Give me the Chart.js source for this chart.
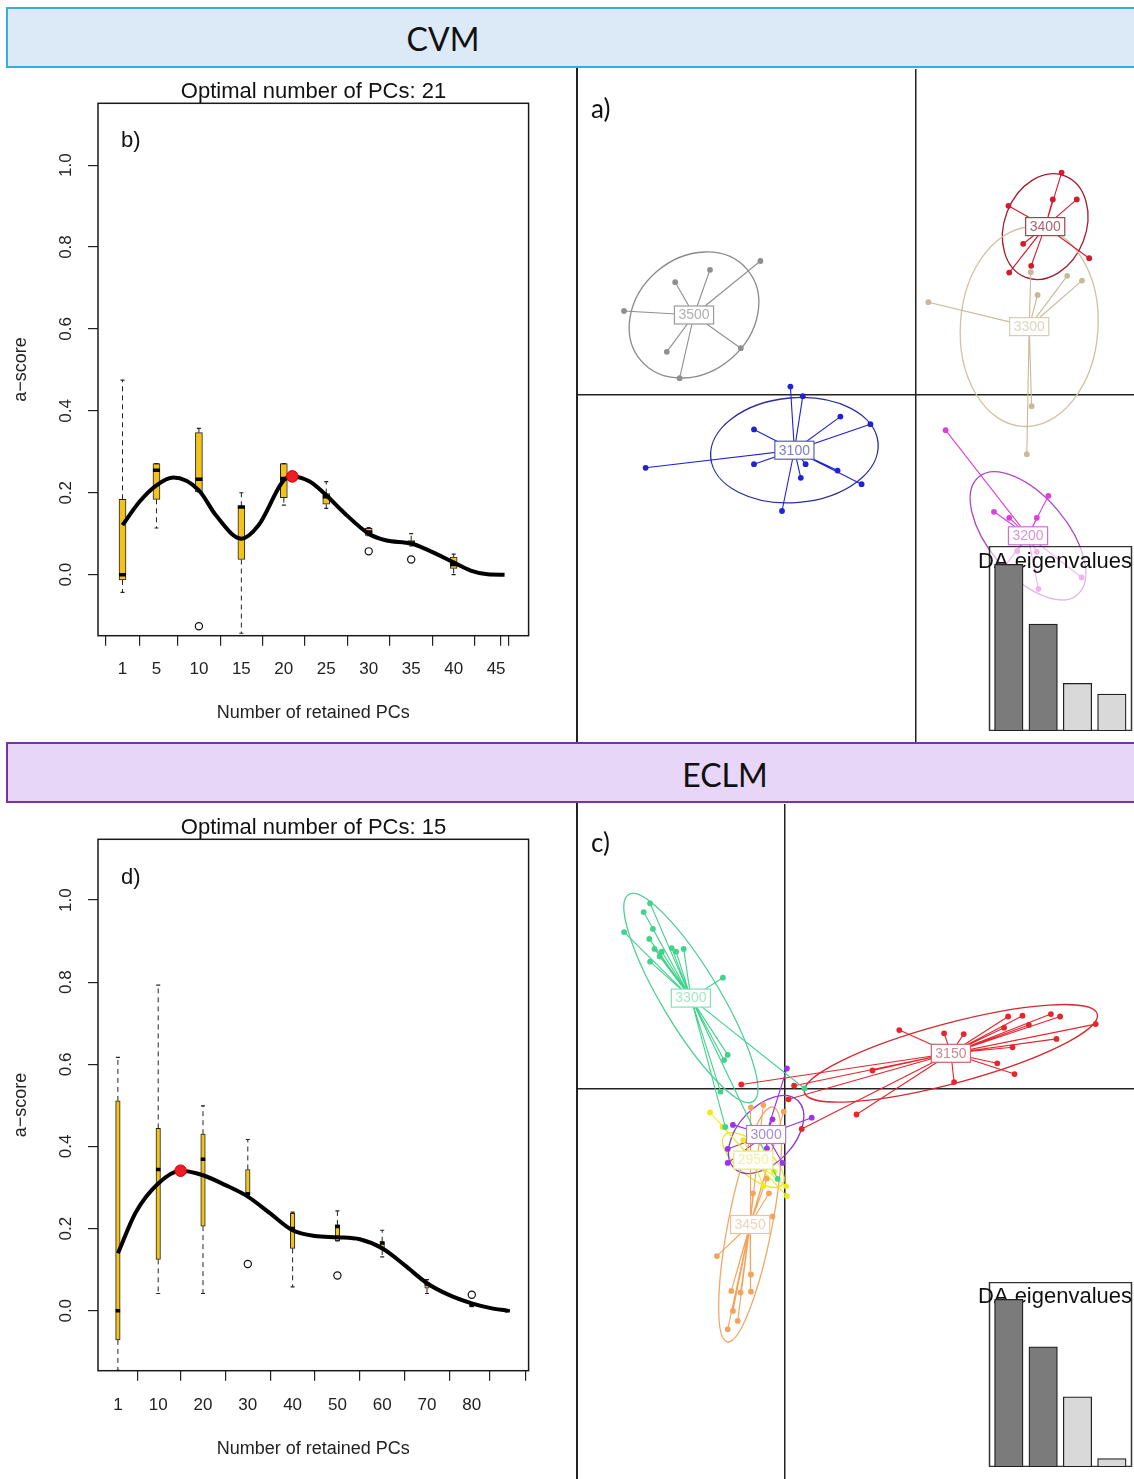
<!DOCTYPE html>
<html>
<head>
<meta charset="utf-8">
<title>DAPC - CVM / ECLM</title>
<script src="https://cdn.jsdelivr.net/npm/chart.js@4.4.1/dist/chart.umd.min.js"></script>
<style>
  body { margin: 0; background: #fff; }
  #page { position: relative; width: 1134px; height: 1479px; overflow: hidden; background: #fff; }
  canvas { position: absolute; }
  .banner { position: absolute; left: 6px; width: 1140px; height: 57px; border: 2px solid; z-index: 5; }
  .bannerText { position: absolute; transform: translate(-50%, -50%); font-family: Lato, 'Open Sans', sans-serif; font-size: 32px; line-height: 1; color: #111; z-index: 6; }
  .tag { position: absolute; line-height: 1; color: #111; z-index: 6; }
  .vline { position: absolute; left: 576px; width: 1.5px; background: #222; z-index: 4; }
</style>
</head>
<body>
<div id="page">
  <div class="banner" style="top:7px;background:#dce9f7;border-color:#36acdf"></div>
  <div class="bannerText" style="left:443px;top:39px">CVM</div>
  <div class="banner" style="top:742px;background:#e7d6f8;border-color:#7433a6"></div>
  <div class="bannerText" style="left:725px;top:775px">ECLM</div>

  <canvas id="scoreCvm" width="627" height="672" style="left:0;top:70px;z-index:1"></canvas>
  <canvas id="dapcCvm" width="556" height="673" style="left:578px;top:69px;z-index:2;background:#fff"></canvas>
  <canvas id="eigCvm" width="158" height="185" style="left:976px;top:546px;z-index:3"></canvas>

  <canvas id="scoreEclm" width="627" height="674" style="left:0;top:805px;z-index:1"></canvas>
  <canvas id="dapcEclm" width="556" height="675" style="left:578px;top:804px;z-index:2;background:#fff"></canvas>
  <canvas id="eigEclm" width="158" height="185" style="left:976px;top:1282px;z-index:3"></canvas>

  <div class="vline" style="top:68px;height:674px"></div>
  <div class="vline" style="top:803px;height:676px"></div>

  <div class="tag" style="left:121px;top:127px;font:22px 'Liberation Sans',Arial,sans-serif">b)</div>
  <div class="tag" style="left:121px;top:864px;font:22px 'Liberation Sans',Arial,sans-serif">d)</div>
  <div class="tag" style="left:591px;top:92px;font:26px Lato,'Open Sans',sans-serif">a)</div>
  <div class="tag" style="left:591px;top:826px;font:26px Lato,'Open Sans',sans-serif">c)</div>
</div>

<script>
const fontFamily = "'Liberation Sans', Arial, Helvetica, sans-serif"
Chart.defaults.font.family = fontFamily
Chart.defaults.color = '#1a1a1a'

// ---------- a-score cross validation, CVM (b)
const cvmTitle = 'Optimal number of PCs: 21'
const cvmBoxX = [1, 5, 10, 15, 20, 25, 30, 35, 40]
const cvmMin = [-0.043, 0.114, 0.202, -0.143, 0.170, 0.162, 0.095, 0.070, 0.000]
const cvmQ1 = [-0.013, 0.184, 0.202, 0.037, 0.188, 0.172, 0.096, 0.072, 0.015]
const cvmMed = [0.000, 0.255, 0.233, 0.165, 0.235, 0.190, 0.104, 0.077, 0.025]
const cvmQ3 = [0.184, 0.271, 0.347, 0.167, 0.271, 0.198, 0.113, 0.083, 0.043]
const cvmMax = [0.475, 0.271, 0.357, 0.200, 0.271, 0.227, 0.115, 0.100, 0.050]
const cvmOutX = [10, 30, 35]
const cvmOutY = [-0.126, 0.057, 0.037]
const cvmCurveX = [1, 3, 5, 7, 10, 12, 15, 17, 20, 21, 23, 25, 27, 30, 32, 35, 37, 40, 42, 44, 46]
const cvmCurveY = [0.121, 0.178, 0.218, 0.237, 0.206, 0.145, 0.088, 0.120, 0.231, 0.240, 0.228, 0.194, 0.153, 0.100, 0.084, 0.076, 0.060, 0.030, 0.010, 0.001, 0.000]
const cvmBest = [21, 0.240]
const cvmXTicks = [1, 5, 10, 15, 20, 25, 30, 35, 40, 45, 46]
const cvmXLabels = ['1', '5', '10', '15', '20', '25', '30', '35', '40', '45', '']

// ---------- a-score cross validation, ECLM (d)
const eclmTitle = 'Optimal number of PCs: 15'
const eclmBoxX = [1, 10, 20, 30, 40, 50, 60, 70, 80, 88]
const eclmMin = [-0.145, 0.042, 0.042, 0.282, 0.058, 0.170, 0.131, 0.042, 0.010, 0.000]
const eclmQ1 = [-0.071, 0.125, 0.206, 0.282, 0.152, 0.170, 0.148, 0.055, 0.010, 0.000]
const eclmMed = [0.000, 0.344, 0.369, 0.285, 0.200, 0.205, 0.165, 0.065, 0.015, 0.000]
const eclmQ3 = [0.511, 0.444, 0.430, 0.344, 0.237, 0.209, 0.168, 0.070, 0.020, 0.000]
const eclmMax = [0.617, 0.793, 0.499, 0.417, 0.240, 0.243, 0.196, 0.076, 0.020, 0.000]
const eclmOutX = [30, 50, 80]
const eclmOutY = [0.114, 0.086, 0.039]
const eclmCurveX = [1, 5, 10, 15, 20, 25, 30, 35, 40, 45, 50, 55, 60, 65, 70, 75, 80, 84, 88]
const eclmCurveY = [0.140, 0.240, 0.310, 0.341, 0.330, 0.306, 0.278, 0.237, 0.196, 0.182, 0.179, 0.174, 0.152, 0.111, 0.067, 0.038, 0.018, 0.007, 0.000]
const eclmBest = [15, 0.341]
const eclmXTicks = [1, 10, 20, 30, 40, 50, 60, 70, 80, 88]
const eclmXLabels = ['1', '10', '20', '30', '40', '50', '60', '70', '80', '']

const scoreYTicks = [0, 0.2, 0.4, 0.6, 0.8, 1.0]

// ---------- DAPC scatter, CVM (a)
const cvmGroups = ['3500', '3100', '3400', '3300', '3200']
const cvmCx = [-5.55, -3.04, 3.23, 2.83, 2.80]
const cvmCy = [2.00, -1.38, 4.21, 1.71, -3.52]
const cvmPtsX = [
  [-7.30, -6.02, -5.15, -3.89, -4.38, -6.23, -5.91],
  [-3.14, -2.83, -1.89, -1.14, -4.05, -6.76, -4.05, -2.76, -2.88, -1.96, -1.36, -3.35],
  [3.64, 3.42, 4.02, 2.31, 2.68, 2.88, 2.33, 4.33],
  [0.31, 2.87, 3.04, 3.78, 4.15, 2.89, 2.77],
  [0.74, 3.31, 1.95, 2.33, 3.02, 2.53, 3.02, 2.08, 4.14, 3.06]
]
const cvmPtsY = [
  [2.10, 2.82, 3.13, 3.35, 1.17, 1.08, 0.42],
  [0.21, -0.03, -0.54, -0.73, -0.86, -1.82, -1.73, -1.73, -2.07, -1.89, -2.23, -2.90],
  [5.56, 4.89, 4.89, 4.73, 3.78, 3.23, 3.06, 3.42],
  [2.32, 3.07, 2.50, 2.98, 2.86, -0.28, -1.48],
  [-0.88, -2.52, -2.92, -3.07, -3.07, -3.90, -3.92, -4.46, -4.56, -4.85]
]
const cvmEllA = [1.75, 2.10, 1.36, 2.50, 1.92]
const cvmEllB = [1.43, 1.31, 1.02, 1.72, 0.98]
const cvmEllAng = [41, 5, 69, 86, -50]
const cvmEig = [100, 64.2, 28.6, 22.2]

// ---------- DAPC scatter, ECLM (c)
const eclmGroups = ['3300', '3150', '2950', '3000', '3450']
const eclmCx = [-2.34, 4.16, -0.78, -0.46, -0.86]
const eclmCy = [2.26, 0.88, -1.79, -1.15, -3.40]
const eclmPtsX = [
  [-3.36, -3.52, -4.01, -3.29, -3.38, -3.25, -3.07, -2.82, -2.71, -2.52, -3.36, -3.12, -1.54, -1.42, -1.51, -1.60, -1.48, 0.50, -0.17],
  [2.87, 3.99, 4.48, 5.59, 5.95, 6.66, 6.89, 7.78, 5.49, 6.11, 6.80, 5.70, 5.32, 5.75, 4.24, 2.20, 0.24, -1.08, 0.10, 1.80, 0.43],
  [-1.86, -1.55, 0.04, 0.06, -0.26, -0.53, -1.03],
  [0.06, 0.68, -0.30, -1.29, -1.42, -1.42, -0.05, -0.44],
  [-1.69, -0.84, -1.33, -1.10, -0.84, -1.29, -1.17, -1.42, -0.53, -0.84, -0.02, -0.44, -0.39, -0.79, -0.30]
]
const eclmPtsY = [
  [4.63, 4.41, 3.91, 3.99, 3.74, 3.49, 3.42, 3.51, 3.42, 3.49, 3.17, 3.30, 2.77, 0.84, 0.71, -0.08, -0.96, 0.00, -2.26],
  [1.46, 1.38, 1.36, 1.80, 1.82, 1.86, 1.80, 1.61, 1.52, 1.59, 1.24, 1.03, 0.63, 0.36, 0.16, 0.45, 0.07, 0.10, -0.27, -0.65, -1.01],
  [-0.60, -0.96, -2.44, -2.69, -2.08, -2.44, -1.29],
  [0.50, -0.73, -0.77, -0.91, -1.51, -1.86, -1.86, -1.50],
  [-4.19, -4.65, -5.06, -5.10, -5.08, -5.56, -5.81, -6.02, -0.41, -0.47, -0.58, -2.25, -2.62, -2.62, -3.20]
]
const eclmEllA = [3.02, 3.79, 0.95, 1.16, 2.99]
const eclmEllB = [0.72, 0.75, 0.40, 0.70, 0.55]
const eclmEllAng = [-59, 15, -40, 47, 79]
const eclmEig = [100, 71.7, 41.8, 5.0]

// colours
const cvmCol = ['#8f8f8f', '#1f22d8', '#d41a2c', '#c8b998', '#dc3fdc']
const cvmEllCol = ['#8a8a8a', '#2a2e98', '#a31b30', '#cfc2a6', '#b04ac4']
const cvmBoxCol = ['#9a9a9a', '#5a5fb0', '#a8404e', '#d8ccb4', '#d070d6']
const cvmTxtCol = ['#b0b0b0', '#7d80c0', '#b0606c', '#ddd4c2', '#dc90dc']
const eclmCol = ['#40d38c', '#e8242c', '#eeea14', '#9a33ec', '#f3a35c']
const eclmEllCol = ['#4ccf95', '#d42a30', '#e8e430', '#8a3cd6', '#f0a868']
const eclmBoxCol = ['#86ddb6', '#c9666b', '#ecea6a', '#a57ed8', '#f0c29a']
const eclmTxtCol = ['#a6e6c8', '#c98a90', '#f4f0a0', '#a68ad6', '#f2d2b6']
const eigFill = ['#7b7b7b', '#7b7b7b', '#d9d9d9', '#d9d9d9']


const frame = {
  id: 'frame',
  afterDatasetsDraw(chart) {
    const {ctx, chartArea: a} = chart
    ctx.save()
    ctx.strokeStyle = '#1a1a1a'
    ctx.lineWidth = 1.5
    ctx.strokeRect(a.left, a.top, a.right - a.left, a.bottom - a.top)
    ctx.restore()
  }
}

function scoreChart(id, s) {
  var boxes = [], meds = [], whisk = [], caps = [], outs = []
  s.boxX.forEach((x, i) => {
    boxes.push({x: x, y: [s.q1[i], s.q3[i]]})
    meds.push({x: x, y: s.med[i]})
    whisk.push({x: x, y: s.q3[i]}, {x: x, y: s.max[i]}, {x: x, y: null})
    whisk.push({x: x, y: s.q1[i]}, {x: x, y: s.min[i]}, {x: x, y: null})
    caps.push({x: x, y: s.max[i]}, {x: x, y: s.min[i]})
  })
  s.outX.forEach((x, i) => outs.push({x: x, y: s.outY[i]}))

  return new Chart(document.getElementById(id), {
    type: 'scatter',
    data: {
      datasets: [
        {type: 'scatter', data: [{x: s.best[0], y: s.best[1]}], pointRadius: 5.8, backgroundColor: '#ee1c24', borderColor: '#d00000', borderWidth: 1, order: 0},
        {type: 'line', data: s.curveX.map((x, i) => ({x: x, y: s.curveY[i]})), borderColor: '#000', borderWidth: 4, pointRadius: 0, cubicInterpolationMode: 'monotone', order: 1},
        {type: 'scatter', data: meds, pointStyle: 'line', pointRadius: s.boxW / 2, borderWidth: 3.5, borderColor: '#000', order: 2},
        {type: 'scatter', data: caps, pointStyle: 'line', pointRadius: 2, borderWidth: 1.2, borderColor: '#222', order: 3},
        {type: 'scatter', data: outs, pointRadius: 3.6, backgroundColor: '#fff', borderColor: '#111', borderWidth: 1.2, order: 3},
        {type: 'line', data: whisk, borderColor: '#222', borderWidth: 1, borderDash: [5, 4], pointRadius: 0, spanGaps: false, order: 4},
        {type: 'bar', data: boxes, barThickness: s.boxW, backgroundColor: '#f2c31b', borderColor: '#222', borderWidth: 1, borderSkipped: false, order: 5}
      ]
    },
    options: {
      responsive: false,
      animation: false,
      events: [],
      layout: {autoPadding: false},
      plugins: {
        legend: {display: false},
        tooltip: {enabled: false},
        title: {display: true, text: s.title, color: '#111', font: {size: 22, weight: 'normal', lineHeight: 1}, padding: {top: s.titleTop, bottom: 0}}
      },
      scales: {
        x: {
          type: 'linear', min: s.xMin, max: s.xMax, offset: false,
          afterBuildTicks: sc => { sc.ticks = s.xTicks.map(v => ({value: v})) },
          afterFit: sc => { sc.height = s.xAxisH },
          ticks: {autoSkip: false, minRotation: 0, maxRotation: 0, padding: s.xTickPad, font: {size: 17}, color: '#222', callback: (v, i) => s.xLabels[i]},
          grid: {drawOnChartArea: false, tickLength: 10, color: '#222', lineWidth: 1.2},
          border: {display: false},
          title: {display: true, text: 'Number of retained PCs', color: '#222', font: {size: 18}, padding: {top: 0, bottom: s.xTitlePad}}
        },
        y: {
          type: 'linear', min: s.yMin, max: s.yMax,
          afterBuildTicks: sc => { sc.ticks = scoreYTicks.map(v => ({value: v})) },
          afterFit: sc => { sc.width = 98 },
          ticks: {autoSkip: false, minRotation: 90, maxRotation: 90, crossAlign: 'center', padding: 10, font: {size: 17}, color: '#222', callback: v => v.toFixed(1)},
          grid: {drawOnChartArea: false, tickLength: 10, color: '#222', lineWidth: 1.2},
          border: {display: false},
          title: {display: true, text: 'a\u2212score', color: '#222', font: {size: 18}, padding: {top: 10, bottom: 0}}
        },
        y2: {
          type: 'linear', position: 'right', display: true,
          afterFit: sc => { sc.width = 98.4 },
          ticks: {display: false}, grid: {display: false}, border: {display: false}
        }
      }
    },
    plugins: [frame]
  })
}

function dapcDecor(p) {
  return {
    id: 'dapcDecor',
    beforeDatasetsDraw(chart) {
      const {ctx, scales: {x, y}} = chart
      const unit = x.getPixelForValue(1) - x.getPixelForValue(0)
      p.names.forEach((n, i) => {
        ctx.save()
        ctx.beginPath()
        ctx.ellipse(x.getPixelForValue(p.cx[i]), y.getPixelForValue(p.cy[i]), p.ellA[i] * unit, p.ellB[i] * unit, -p.ellAng[i] * Math.PI / 180, 0, Math.PI * 2)
        ctx.strokeStyle = p.ellCol[i]
        ctx.lineWidth = 1.3
        ctx.stroke()
        ctx.restore()
      })
    },
    afterDatasetsDraw(chart) {
      const {ctx, scales: {x, y}} = chart
      ctx.save()
      ctx.font = '14px ' + fontFamily
      ctx.textAlign = 'center'
      ctx.textBaseline = 'middle'
      p.names.forEach((n, i) => {
        const px = x.getPixelForValue(p.cx[i]), py = y.getPixelForValue(p.cy[i])
        const w = ctx.measureText(n).width + 8, h = 18
        ctx.fillStyle = '#fff'
        ctx.fillRect(px - w / 2, py - h / 2, w, h)
        ctx.strokeStyle = p.boxCol[i]
        ctx.lineWidth = 1.2
        ctx.strokeRect(px - w / 2, py - h / 2, w, h)
        ctx.fillStyle = p.txtCol[i]
        ctx.fillText(n, px, py + 0.5)
      })
      ctx.restore()
    }
  }
}

function dapcChart(id, p) {
  var sets = p.names.map((n, i) => {
    var data = []
    p.ptsX[i].forEach((px, j) => {
      data.push({x: p.cx[i], y: p.cy[i]}, {x: px, y: p.ptsY[i][j]})
    })
    return {
      type: 'line', label: n, data: data, borderColor: p.col[i], borderWidth: 1.1, tension: 0,
      pointRadius: c => c.dataIndex % 2 ? 2.9 : 0, pointBackgroundColor: p.col[i], pointBorderWidth: 0
    }
  })
  var zeroAxis = {
    display: true,
    afterBuildTicks: sc => { sc.ticks = [{value: 0}] },
    ticks: {display: false},
    grid: {drawTicks: false, color: '#222', lineWidth: 1.5},
    border: {display: false}
  }
  return new Chart(document.getElementById(id), {
    type: 'scatter',
    data: {datasets: sets},
    options: {
      responsive: false,
      animation: false,
      events: [],
      layout: {autoPadding: false, padding: 0},
      plugins: {legend: {display: false}, tooltip: {enabled: false}},
      scales: {
        x: Object.assign({type: 'linear', min: p.xMin, max: p.xMax}, zeroAxis),
        y: Object.assign({type: 'linear', min: p.yMin, max: p.yMax}, zeroAxis)
      }
    },
    plugins: [dapcDecor(p)]
  })
}

const insetBox = {
  id: 'insetBox',
  beforeDraw(chart) {
    const ctx = chart.ctx
    ctx.save()
    ctx.fillStyle = 'rgba(255,255,255,0.6)'
    ctx.fillRect(13.5, 0.5, 142, 184)
    ctx.strokeStyle = '#333'
    ctx.lineWidth = 1.5
    ctx.strokeRect(13.5, 0.5, 142, 184)
    ctx.restore()
  }
}

function eigenChart(id, values, yMax, titleTop) {
  return new Chart(document.getElementById(id), {
    type: 'bar',
    data: {
      datasets: [{
        data: values.map((v, i) => ({x: i + 1, y: v})),
        backgroundColor: eigFill, borderColor: '#222', borderWidth: 1.3, borderSkipped: false, barThickness: 28.5
      }]
    },
    options: {
      responsive: false,
      animation: false,
      events: [],
      layout: {autoPadding: false},
      plugins: {
        legend: {display: false},
        tooltip: {enabled: false},
        title: {display: true, text: 'DA eigenvalues', color: '#111', font: {size: 22, weight: 'normal', lineHeight: 1}, padding: {top: titleTop, bottom: -22 - titleTop}}
      },
      scales: {
        x: {type: 'linear', display: false, min: 0.045, max: 4.645, offset: false},
        y: {type: 'linear', display: false, min: 0, max: yMax}
      }
    },
    plugins: [insetBox]
  })
}


scoreChart('scoreCvm', {
  title: cvmTitle, titleTop: 11.3,
  boxX: cvmBoxX, min: cvmMin, q1: cvmQ1, med: cvmMed, q3: cvmQ3, max: cvmMax,
  outX: cvmOutX, outY: cvmOutY, curveX: cvmCurveX, curveY: cvmCurveY, best: cvmBest,
  xTicks: cvmXTicks, xLabels: cvmXLabels, boxW: 7,
  xMin: -1.886, xMax: 48.83, yMin: -0.149, yMax: 1.151,
  xAxisH: 106.3, xTickPad: 13, xTitlePad: 18
})

scoreChart('scoreEclm', {
  title: eclmTitle, titleTop: 12.3,
  boxX: eclmBoxX, min: eclmMin, q1: eclmQ1, med: eclmMed, q3: eclmQ3, max: eclmMax,
  outX: eclmOutX, outY: eclmOutY, curveX: eclmCurveX, curveY: eclmCurveY, best: eclmBest,
  xTicks: eclmXTicks, xLabels: eclmXLabels, boxW: 4.5,
  xMin: -3.442, xMax: 92.68, yMin: -0.146, yMax: 1.148,
  xAxisH: 108.3, xTickPad: 14, xTitlePad: 19
})

dapcChart('dapcCvm', {
  names: cvmGroups, cx: cvmCx, cy: cvmCy, ptsX: cvmPtsX, ptsY: cvmPtsY,
  ellA: cvmEllA, ellB: cvmEllB, ellAng: cvmEllAng,
  col: cvmCol, ellCol: cvmEllCol, boxCol: cvmBoxCol, txtCol: cvmTxtCol,
  xMin: -8.45, xMax: 5.45, yMin: -8.675, yMax: 8.15
})

dapcChart('dapcEclm', {
  names: eclmGroups, cx: eclmCx, cy: eclmCy, ptsX: eclmPtsX, ptsY: eclmPtsY,
  ellA: eclmEllA, ellB: eclmEllB, ellAng: eclmEllAng,
  col: eclmCol, ellCol: eclmEllCol, boxCol: eclmBoxCol, txtCol: eclmTxtCol,
  xMin: -5.1625, xMax: 8.7375, yMin: -9.7625, yMax: 7.1125
})

eigenChart('eigCvm', cvmEig, 111, 4.7)
eigenChart('eigEclm', eclmEig, 110.3, 4.3)
</script>
</body>
</html>
